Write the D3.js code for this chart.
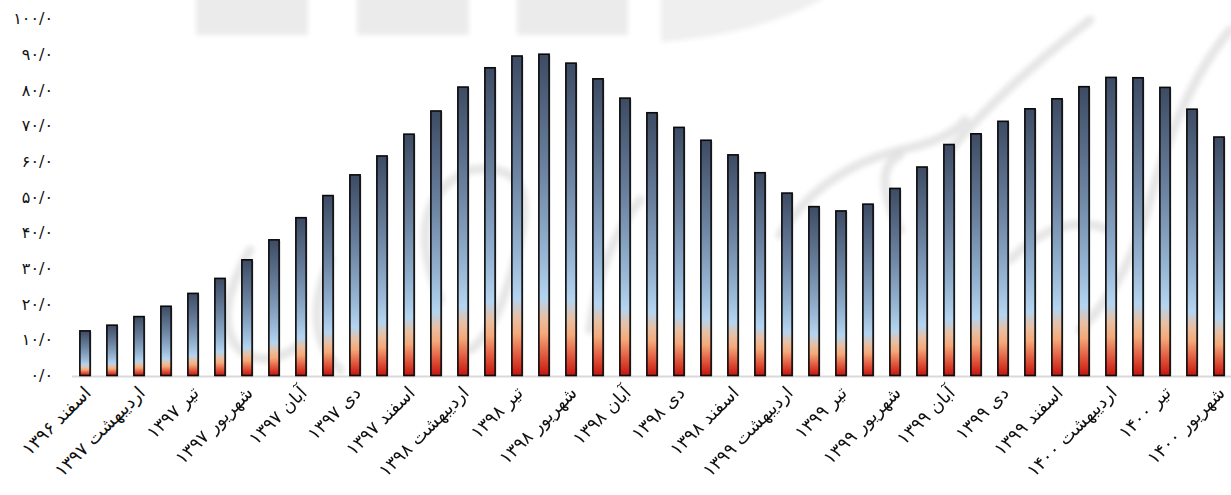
<!DOCTYPE html>
<html><head><meta charset="utf-8">
<script src="https://cdn.jsdelivr.net/npm/d3@7"></script>
<style>body{margin:0;background:#fff;overflow:hidden}</style>
</head><body><svg id="c" width="1231" height="495"></svg>
<script>
const categories = [
"اسفند ۱۳۹۶","فروردین ۱۳۹۷","اردیبهشت ۱۳۹۷","خرداد ۱۳۹۷","تیر ۱۳۹۷","مرداد ۱۳۹۷","شهریور ۱۳۹۷","مهر ۱۳۹۷","آبان ۱۳۹۷","آذر ۱۳۹۷","دی ۱۳۹۷","بهمن ۱۳۹۷","اسفند ۱۳۹۷",
"فروردین ۱۳۹۸","اردیبهشت ۱۳۹۸","خرداد ۱۳۹۸","تیر ۱۳۹۸","مرداد ۱۳۹۸","شهریور ۱۳۹۸","مهر ۱۳۹۸","آبان ۱۳۹۸","آذر ۱۳۹۸","دی ۱۳۹۸","بهمن ۱۳۹۸","اسفند ۱۳۹۸",
"فروردین ۱۳۹۹","اردیبهشت ۱۳۹۹","خرداد ۱۳۹۹","تیر ۱۳۹۹","مرداد ۱۳۹۹","شهریور ۱۳۹۹","مهر ۱۳۹۹","آبان ۱۳۹۹","آذر ۱۳۹۹","دی ۱۳۹۹","بهمن ۱۳۹۹","اسفند ۱۳۹۹",
"فروردین ۱۴۰۰","اردیبهشت ۱۴۰۰","خرداد ۱۴۰۰","تیر ۱۴۰۰","مرداد ۱۴۰۰","شهریور ۱۴۰۰"];
const values = [12.5,14.1,16.5,19.4,23.0,27.2,32.4,38.0,44.2,50.4,56.2,61.5,67.6,
74.1,80.8,86.2,89.5,90.0,87.5,83.1,77.7,73.6,69.5,65.9,61.8,
56.8,51.1,47.3,46.1,48.0,52.4,58.4,64.7,67.7,71.2,74.7,77.5,
80.9,83.5,83.4,80.7,74.6,66.8];
const yTicks = [0,10,20,30,40,50,60,70,80,90,100];

const fa = s => String(s).replace(/\d/g, d => "۰۱۲۳۴۵۶۷۸۹"[d]);
const fmtY = v => fa(v.toFixed(1).replace(".", "/"));

const svg = d3.select("#c");
const W = 1231, H = 495;
const x = d3.scaleBand().domain(categories).range([71.5, 1232.5]).paddingInner(0.62).paddingOuter(0.31);
const y = d3.scaleLinear().domain([0, 100]).range([375.5, 18.5]);

const defs = svg.append("defs");
const g = defs.append("linearGradient").attr("id", "bg").attr("x1", 0).attr("y1", 0).attr("x2", 0).attr("y2", 1);
[[0,"#3d4b63"],[0.35,"#6a819f"],[0.6,"#92b0cf"],[0.76,"#b4d4f0"],[0.82,"#e9bfa2"],[0.87,"#f4a97a"],[0.94,"#e0553c"],[1,"#c4150e"]]
  .forEach(([o,c]) => g.append("stop").attr("offset", o).attr("stop-color", c));
const blur = defs.append("filter").attr("id","bl").attr("x","-10%").attr("y","-10%").attr("width","120%").attr("height","120%");
blur.append("feGaussianBlur").attr("stdDeviation", 2.5);

// watermark (decorative)
const wm = svg.append("g").attr("filter","url(#bl)");
[[196,308],[357,469],[517,628]].forEach(([a,b]) => wm.append("rect").attr("x",a).attr("y",-5).attr("width",b-a).attr("height",40).attr("fill","#ebebeb"));
wm.append("path").attr("d","M661,-5 L830,-5 Q760,35 661,42 Z").attr("fill","#efefef");
const strokes = [
  "M250,250 Q210,320 240,350 Q265,370 300,345",
  "M440,300 Q400,200 470,170 Q540,160 520,240 Q500,330 470,350",
  "M590,330 Q600,250 640,200",
  "M780,235 Q820,170 900,150 Q950,140 965,120",
  "M1090,20 Q1000,90 950,150",
  "M900,230 Q870,170 900,155",
  "M1230,30 Q1180,90 1150,200 Q1130,280 1080,330",
  "M1010,260 Q1060,210 1110,230",
  "M330,260 Q300,330 340,370"
];
strokes.forEach(d => wm.append("path").attr("d", d).attr("fill","none").attr("stroke","#dcdcdc").attr("stroke-width",9).attr("stroke-linecap","round").attr("opacity",0.7));

// baseline
svg.append("line").attr("x1",72).attr("x2",W).attr("y1",376.5).attr("y2",376.5).attr("stroke","#d9d9d9").attr("stroke-width",2);

// y axis
const yAxis = d3.axisLeft(y).tickValues(yTicks).tickFormat(fmtY).tickSize(0).tickPadding(0);
const ya = svg.append("g").attr("transform","translate(53,0)").call(yAxis);
ya.select(".domain").remove();
ya.selectAll("text").attr("font-family","'DejaVu Sans', sans-serif").attr("font-size",16).attr("fill","#111");

// bars
const bars = svg.append("g");
bars.selectAll("rect.sh").data(values).join("rect").attr("class","sh")
  .attr("x",(d,i)=>x(categories[i])+1.5).attr("y",d=>y(d)+1).attr("width",x.bandwidth()).attr("height",d=>y(0)-y(d))
  .attr("fill","#bdbdbd").attr("opacity",0.6);
bars.selectAll("rect.b").data(values).join("rect").attr("class","b")
  .attr("x",(d,i)=>x(categories[i])).attr("y",d=>y(d)).attr("width",x.bandwidth()).attr("height",d=>y(0)-y(d))
  .attr("fill","url(#bg)").attr("stroke","#0a0a0a").attr("stroke-width",1.6);

// x axis
const xAxis = d3.axisBottom(x).tickValues(categories.filter((c,i)=>i%2===0)).tickSize(0).tickPadding(0);
const xa = svg.append("g").attr("transform","translate(0,376)").call(xAxis);
xa.select(".domain").remove();
xa.selectAll("text").attr("font-family","'DejaVu Sans', sans-serif").attr("font-size",18).attr("fill","#111")
  .attr("text-anchor","end").attr("dy",0).attr("y",0)
  .attr("transform","translate(7,18) rotate(-45)");
</script></body></html>
